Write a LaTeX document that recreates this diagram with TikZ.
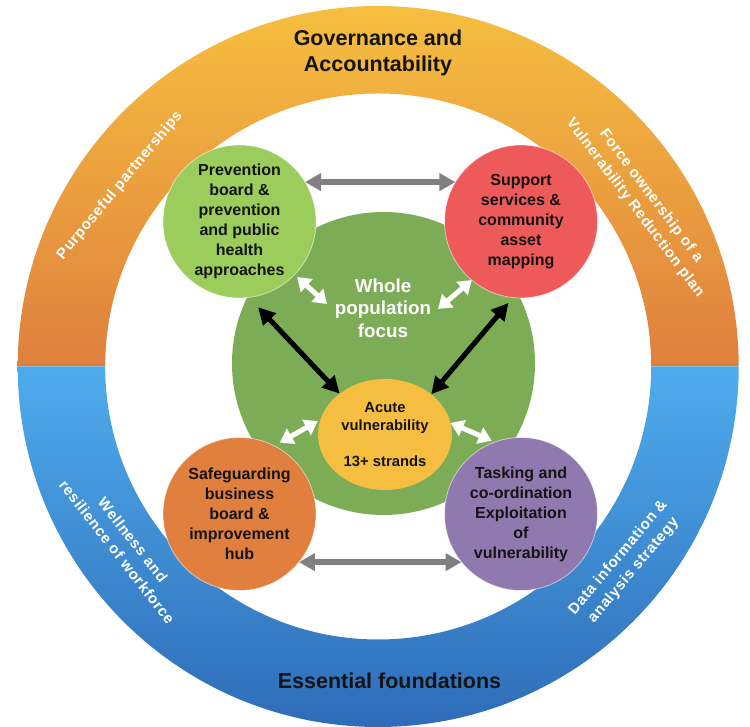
\documentclass[tikz,border=0pt]{standalone}
\usepackage{fontspec}
\setmainfont{Liberation Sans}
\usetikzlibrary{arrows.meta,shapes.geometric}
\definecolor{ringtop}{HTML}{F6BF3F}
\definecolor{ringmid}{HTML}{DF7F3E}
\definecolor{ringblue}{HTML}{4FACEC}
\definecolor{ringnavy}{HTML}{2E6CB8}
\definecolor{wholegreen}{HTML}{7CAD56}
\definecolor{prevgreen}{HTML}{9CCC5C}
\definecolor{supred}{HTML}{EE5A5A}
\definecolor{safeorange}{HTML}{E07F3E}
\definecolor{taskpurple}{HTML}{8F79AE}
\definecolor{acuteyellow}{HTML}{F6BE41}
\definecolor{inktext}{HTML}{141414}
\definecolor{linkgrey}{HTML}{808083}
\tikzset{
  hub/.style={circle,minimum size=153pt,inner sep=0pt,outer sep=0pt,align=center,
    draw=white,draw opacity=.55,line width=.8pt,text=inktext,
    execute at begin node={\rule{0pt}{15pt}},
    font=\bfseries\fontsize{16}{20}\selectfont},
  ringnote/.style={text=white,align=center,inner sep=0pt,
    font=\bfseries\fontsize{15}{20}\selectfont\addfontfeatures{LetterSpace=4.5}},
  ringtitle/.style={text=inktext,align=center,inner sep=0pt,
    font=\bfseries\fontsize{21.5}{26}\selectfont},
  greylink/.style={{Triangle[width=17pt,length=16pt]}-{Triangle[width=17pt,length=16pt]},line width=5.5pt,draw=linkgrey},
  blacklink/.style={{Triangle[width=17pt,length=17pt]}-{Triangle[width=17pt,length=17pt]},line width=5pt,draw=black},
  whitelink/.style={{Triangle[width=17pt,length=13pt]}-{Triangle[width=17pt,length=13pt]},line width=5pt,draw=white},
}
\begin{document}
\begin{tikzpicture}[x=1pt,y=1pt]
\useasboundingbox (0,0) rectangle (750,727);
% Outer ring halves
\shade[top color=ringtop,bottom color=ringmid]
  (17.7,360.5) arc[start angle=180,end angle=0,radius=360.5pt]
  -- (651.2,360.5) arc[start angle=0,end angle=180,radius=273pt] -- cycle;
\shade[top color=ringblue,bottom color=ringnavy]
  (17.7,360.5) arc[start angle=180,end angle=360,radius=360.5pt]
  -- (651.2,360.5) arc[start angle=360,end angle=180,radius=273pt] -- cycle;
% Central disc
\node[circle,minimum size=303pt,inner sep=0pt,fill=wholegreen] (whole) at (383.5,363.5) {};
\node[text=white,align=center,inner sep=0pt,font=\bfseries\fontsize{18.8}{22.7}\selectfont] (wholelabel) at (383,419) {Whole\\population\\focus};
% Hubs
\node[hub,fill=prevgreen] (prev) at (239.5,505.5) {Prevention\\board \&\\prevention\\and public\\health\\approaches};
\node[hub,fill=supred] (sup) at (521,505.5) {Support\\services \&\\community\\asset\\mapping};
\node[hub,fill=safeorange] (safe) at (239.5,213) {Safeguarding\\business\\board \&\\improvement\\hub};
\node[hub,fill=taskpurple] (task) at (521,213) {Tasking and\\co-ordination\\Exploitation\\of\\vulnerability};
\node[ellipse,minimum width=134pt,minimum height=111pt,inner sep=0pt,outer sep=0pt,align=center,fill=acuteyellow,text=inktext,
  font=\bfseries\fontsize{14.8}{18}\selectfont] (acute) at (385,292.5) {Acute\\vulnerability\\[18pt]13+ strands};
% Ring labels
\node[ringtitle] (gov) at (378,674) {Governance and\\Accountability};
\node[ringtitle] (ess) at (389.5,46.3) {Essential foundations};
\node[ringnote,rotate=50.4] (purp) at (120,541.5) {Purposeful partnerships};
\node[ringnote,rotate=-53] (force) at (643,525) {Force ownership of a\\Vulnerability Reduction plan};
\node[ringnote,rotate=-52] (well) at (125,181) {Wellness and\\resilience of workforce};
\node[ringnote,rotate=50] (data) at (626,163) {Data information \&\\analysis strategy};
% Connectors
\draw[greylink] (prev.31) -- (sup.149);
\draw[greylink] (safe.-39) -- (task.-141);
\draw[blacklink,shorten <=13.4pt] (prev.-83) -- (acute.138.6);
\draw[blacklink,shorten <=7pt] (sup.-96.4) -- (acute.41.4);
\coordinate (wa) at (327,423);
\coordinate (wb) at (438,418);
\draw[whitelink,shorten <=3.5pt] (prev.-44) -- (wa);
\draw[whitelink] (sup.-130) -- (wb);
\draw[whitelink,shorten <=6.5pt,shorten >=3pt] (safe.63) -- (acute.167.7);
\draw[whitelink,shorten <=3.5pt] (task.110.5) -- (acute.10.6);
\end{tikzpicture}
\end{document}
